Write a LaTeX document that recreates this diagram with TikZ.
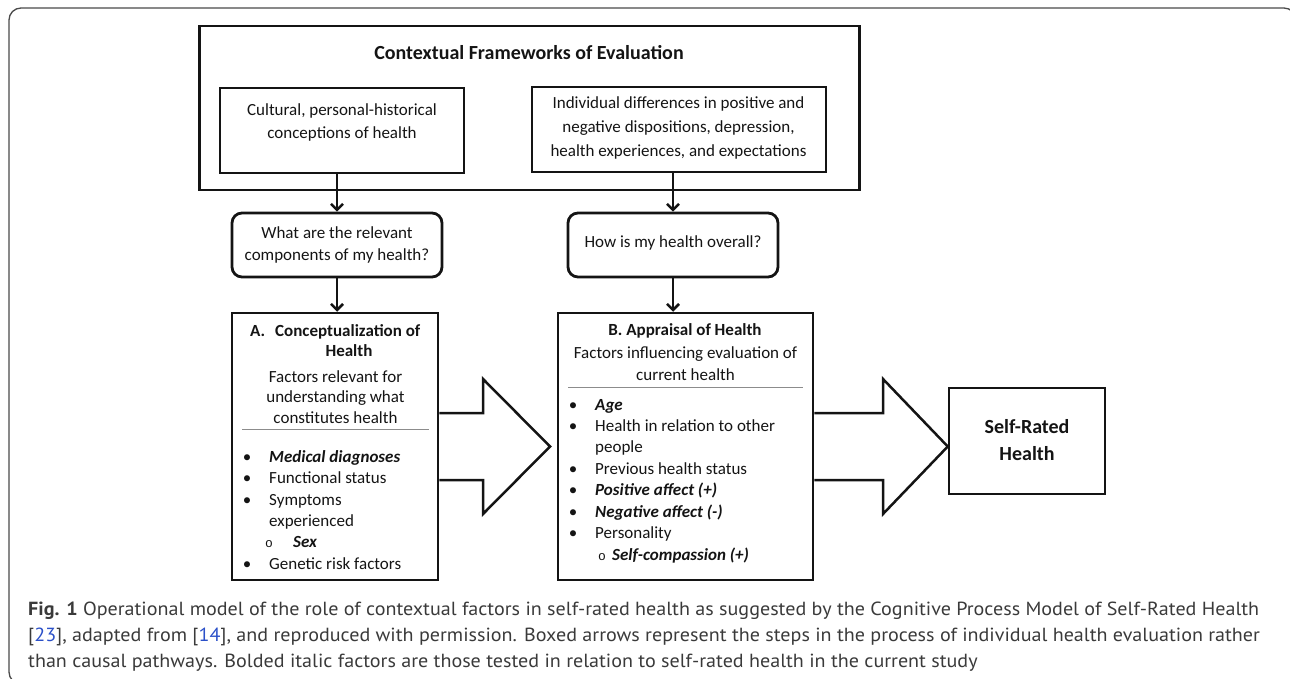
\documentclass[tikz,border=0pt]{standalone}
\usepackage{fontspec}
\setmainfont{Carlito}
\newfontfamily\capfont{PT Sans}
\newfontfamily\circfont{Liberation Mono}
\usetikzlibrary{arrows.meta}
\definecolor{ink}{HTML}{141414}
\definecolor{capgray}{HTML}{3A3A3A}
\definecolor{refblue}{HTML}{2B50C8}
\definecolor{framegray}{HTML}{4A4A4A}
\definecolor{rulegray}{HTML}{8C8C8C}
\newlength\caplinew
\newcommand\capfirst{{\bfseries Fig. 1} Operational model of the role of contextual factors in self-rated health as suggested by the Cognitive Process Model of Self-Rated Health}
\begin{document}
\settowidth\caplinew{\capfont\fontsize{19}{26}\selectfont\capfirst}%
\pgfmathsetmacro\capsx{1231pt/\caplinew}%
\begin{tikzpicture}[x=1pt,y=-1pt,
  box/.style={draw=ink,line width=2.5pt,inner sep=0pt},
  qbox/.style={draw=ink,line width=2.8pt,rounded corners=10pt,inner sep=0pt},
  txt/.style={inner sep=0pt,text=ink,font=\fontsize{17}{23}\selectfont},
  btxt/.style={inner sep=0pt,text=ink,font=\fontsize{17}{21}\selectfont\bfseries},
  itemtxt/.style={txt,anchor=base west},
  bi/.style={itemtxt,font=\fontsize{17}{21}\selectfont\bfseries\itshape},
  bul/.style={txt,anchor=base},
  arr/.style={draw=ink,line width=2.5pt,-{Straight Barb[length=6pt,width=12pt]}},
  bigarrow/.style={draw=ink,line width=2.5pt,line join=miter,fill=white},
  seprule/.style={draw=rulegray,line width=0.9pt},
  captxt/.style={inner sep=0pt,anchor=base west,text=capgray},
]
\useasboundingbox (0,0) rectangle (1290,679);
\begin{scope}
\clip (0,0) rectangle (1290,679);
\draw[framegray,line width=1.3pt,rounded corners=12pt] (9,8) rectangle (1296,684);
\end{scope}

% top context box
\node[box,minimum width=660pt,minimum height=164pt] (ctx) at (529.5,108) {};
\node[btxt,font=\fontsize{20}{24}\selectfont\bfseries,anchor=base] (ctxtitle) at (529,59.5) {Contextual Frameworks of Evaluation};
\node[box,minimum width=244pt,minimum height=85pt] (cult) at (342,130.5) {};
\node[txt,align=center,font=\fontsize{17}{23}\selectfont] (culttext) at (342,122.5) {Cultural, personal-historical\\conceptions of health};
\node[box,minimum width=294pt,minimum height=85pt] (indiv) at (679,129.5) {};
\node[txt,align=center,font=\fontsize{17}{24}\selectfont] (indivtext) at (678.5,128) {Individual differences in positive and\\negative dispositions, depression,\\health experiences, and expectations};

% question boxes
\node[qbox,minimum width=210pt,minimum height=64pt] (q1) at (337,245) {};
\node[txt,align=center,font=\fontsize{17}{22}\selectfont] (q1text) at (337,245) {What are the relevant\\components of my health?};
\node[qbox,minimum width=210pt,minimum height=64pt] (q2) at (673,245) {};
\node[txt] (q2text) at (673,243) {How is my health overall?};

% box A
\node[box,minimum width=206pt,minimum height=267pt] (boxA) at (335,446.5) {};
\node[btxt,anchor=base west] (Alab) at (250,336) {A.};
\node[btxt,anchor=base west] (Ahead) at (275,336) {Conceptualization of};
\node[btxt,anchor=base] (Ahead2) at (349,356) {Health};
\node[txt,align=center,font=\fontsize{17}{20.7}\selectfont] (Asub) at (335.5,397) {Factors relevant for\\understanding what\\constitutes health};
\draw[seprule] (242,429) -- (429,429);
\node[bul] (Ab1) at (247,462) {•};
\node[bi] (Ai1) at (269,462) {Medical diagnoses};
\node[bul] (Ab2) at (247,483) {•};
\node[itemtxt] (Ai2) at (269,483) {Functional status};
\node[bul] (Ab3) at (247,505) {•};
\node[itemtxt] (Ai3) at (269,505) {Symptoms};
\node[itemtxt] (Ai3b) at (269,526) {experienced};
\node[txt,anchor=base,font=\fontsize{13}{15}\selectfont\circfont] (Ac4) at (269,547) {o};
\node[bi] (Ai4) at (293,547) {Sex};
\node[bul] (Ab5) at (247,569) {•};
\node[itemtxt] (Ai5) at (269,569) {Genetic risk factors};

% box B
\node[box,minimum width=255pt,minimum height=267pt] (boxB) at (685.5,446.5) {};
\node[btxt,anchor=base] (Bhead) at (685,335) {B. Appraisal of Health};
\node[txt,align=center,font=\fontsize{17}{22}\selectfont] (Bsub) at (685.5,364) {Factors influencing evaluation of\\current health};
\draw[seprule] (568,387) -- (803,387);
\node[bul] (Bb1) at (573,410) {•};
\node[bi] (Bi1) at (595,410) {Age};
\node[bul] (Bb2) at (573,431) {•};
\node[itemtxt] (Bi2) at (595,431) {Health in relation to other};
\node[itemtxt] (Bi2b) at (595,452) {people};
\node[bul] (Bb3) at (573,474) {•};
\node[itemtxt] (Bi3) at (595,474) {Previous health status};
\node[bul] (Bb4) at (573,495) {•};
\node[bi] (Bi4) at (595,495) {Positive affect (+)};
\node[bul] (Bb5) at (573,517) {•};
\node[bi] (Bi5) at (595,517) {Negative affect (-)};
\node[bul] (Bb6) at (573,538) {•};
\node[itemtxt] (Bi6) at (595,538) {Personality};
\node[txt,anchor=base,font=\fontsize{13}{15}\selectfont\circfont] (Bc7) at (602,560) {o};
\node[bi] (Bi7) at (612,560) {Self-compassion (+)};

% self-rated health
\node[box,minimum width=156pt,minimum height=106pt] (srh) at (1027,441) {};
\node[btxt,align=center,font=\fontsize{20}{27}\selectfont\bfseries] (srhtext) at (1027,440) {Self-Rated\\Health};

% connectors
\draw[arr] (cult.south -| q1.north) -- (q1.north);
\draw[arr] (indiv.south -| q2.north) -- (q2.north);
\draw[arr] (q1.south) -- (q1.south |- boxA.north);
\draw[arr] (q2.south) -- (q2.south |- boxB.north);

% boxed arrows
\draw[bigarrow] (boxA.east |- 0,413) -- (483,413) -- (483,379) -- (550,446.5) -- (483,514) -- (483,480) -- (boxA.east |- 0,480);
\draw[bigarrow] (boxB.east |- 0,413) -- (883,413) -- (883,379) -- (srh.west |- 0,446.5) -- (883,514) -- (883,480) -- (boxB.east |- 0,480);

% caption
\node[captxt] (cap1) at (28,615) {\scalebox{\capsx}[1]{\capfont\fontsize{19}{26}\selectfont\capfirst}};
\node[captxt] (cap2) at (28,641) {\scalebox{\capsx}[1]{\capfont\fontsize{19}{26}\selectfont [\textcolor{refblue}{23}], adapted from [\textcolor{refblue}{14}], and reproduced with permission. Boxed arrows represent the steps in the process of individual health evaluation rather}};
\node[captxt] (cap3) at (28,667) {\scalebox{\capsx}[1]{\capfont\fontsize{19}{26}\selectfont than causal pathways. Bolded italic factors are those tested in relation to self-rated health in the current study}};
\end{tikzpicture}
\end{document}
